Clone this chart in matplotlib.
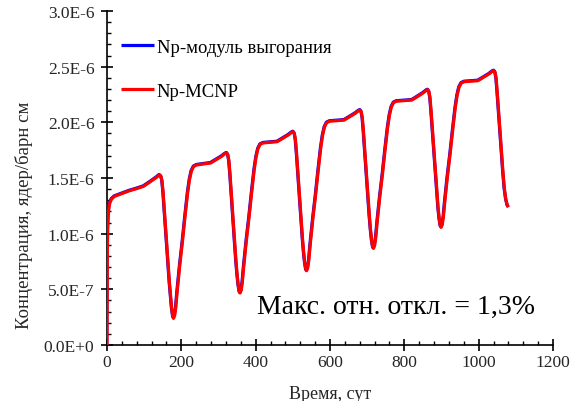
import matplotlib
matplotlib.use("Agg")
import matplotlib.pyplot as plt
import matplotlib.transforms as mtransforms
from matplotlib.ticker import MultipleLocator, FixedLocator

# ---------------- data (concentration in units of 1e-6 nuclei/barn-cm) ----------------
time_days = [
    0, 0.5, 1, 2, 3, 4.5, 6, 8, 12, 20, 30, 40, 60, 80, 98, 108, 118, 128, 134, 138,
    141, 145, 148, 151, 155, 160, 164, 168, 171, 174, 177, 179,
    182, 185, 189, 196, 203, 210, 217, 222, 227, 233, 241, 260, 279, 289, 299, 309, 315, 319,
    322, 325, 328, 331, 338, 343, 347, 350, 353, 356, 358,
    361, 364, 368, 375, 382, 389, 396, 401, 406, 412, 420, 440, 458, 468, 478, 488, 494, 498,
    501, 504, 507, 510, 517, 522, 526, 529, 532, 535, 537,
    540, 543, 547, 554, 561, 568, 575, 580, 585, 591, 599, 620, 638, 648, 658, 668, 674, 678,
    681, 684, 687, 690, 697, 702, 706, 709, 712, 715, 717,
    720, 723, 727, 734, 741, 748, 755, 760, 765, 771, 779, 800, 820, 830, 840, 850, 856, 860,
    863, 866, 869, 872, 879, 884, 888, 891, 894, 897, 899,
    902, 905, 909, 916, 923, 930, 937, 942, 947, 953, 961, 980, 998, 1008, 1018, 1028, 1034, 1038,
    1041, 1044, 1047, 1050, 1055, 1060, 1065, 1069, 1073, 1077, 1080,
]

conc_mcnp = [
    0, 0.55, 0.85, 1.05, 1.14, 1.21, 1.25, 1.28, 1.31, 1.335, 1.348, 1.36, 1.385, 1.405, 1.425,
    1.447, 1.47, 1.493, 1.508, 1.52,
    1.527, 1.515, 1.475, 1.37, 1.18, 0.94, 0.75, 0.56, 0.44, 0.33, 0.26, 0.24,
    0.265, 0.336, 0.488, 0.722, 0.929, 1.156, 1.369, 1.486, 1.562, 1.603, 1.617, 1.626, 1.635,
    1.655, 1.676, 1.696, 1.712, 1.721,
    1.725, 1.71, 1.655, 1.535, 1.187, 0.947, 0.757, 0.637, 0.542, 0.479, 0.467,
    0.491, 0.561, 0.710, 0.939, 1.141, 1.363, 1.572, 1.687, 1.761, 1.802, 1.815, 1.821, 1.826,
    1.846, 1.867, 1.887, 1.903, 1.912,
    1.916, 1.901, 1.846, 1.726, 1.387, 1.147, 0.957, 0.837, 0.742, 0.679, 0.667,
    0.691, 0.761, 0.909, 1.137, 1.339, 1.560, 1.768, 1.882, 1.956, 1.997, 2.01, 2.015, 2.02,
    2.04, 2.061, 2.081, 2.097, 2.106,
    2.11, 2.095, 2.04, 1.92, 1.588, 1.348, 1.158, 1.038, 0.943, 0.880, 0.868,
    0.892, 0.961, 1.106, 1.331, 1.529, 1.747, 1.952, 2.064, 2.137, 2.177, 2.19, 2.195, 2.20,
    2.22, 2.242, 2.263, 2.279, 2.289,
    2.293, 2.278, 2.223, 2.103, 1.777, 1.537, 1.347, 1.227, 1.132, 1.069, 1.057,
    1.081, 1.149, 1.292, 1.515, 1.711, 1.927, 2.130, 2.241, 2.313, 2.352, 2.365, 2.37, 2.374,
    2.394, 2.415, 2.435, 2.451, 2.46,
    2.464, 2.45, 2.395, 2.27, 2.04, 1.80, 1.57, 1.41, 1.31, 1.255, 1.237,
]

# burnup module agrees with MCNP within 1.3 % -> indistinguishable on the chart
conc_module = list(conc_mcnp)

series_labels = ["Np-модуль выгорания", "Np-MCNP"]
xtick_values = [0, 200, 400, 600, 800, 1000, 1200]
ytick_values = [0.0, 0.5, 1.0, 1.5, 2.0, 2.5, 3.0]
ytick_labels = ["0.0E+0", "5.0E-7", "1.0E-6", "1.5E-6", "2.0E-6", "2.5E-6", "3.0E-6"]
xlabel_text = "Время, сут"
ylabel_text = "Концентрация, ядер/барн см"
note_text = "Макс. отн. откл. = 1,3%"

# ---------------- figure ----------------
plt.rcParams['font.family'] = ['Liberation Serif', 'DejaVu Serif']
W, H = 572, 402
fig = plt.figure(figsize=(W / 100, H / 100), dpi=100)
ax = fig.add_axes([107 / W, (H - 346) / H, 446 / W, 334 / H])

shift = mtransforms.ScaledTranslation(-0.2 / 72, 0.35 / 72, fig.dpi_scale_trans)
l_blue, = ax.plot(time_days, conc_module, color="#0000FF", lw=2.3,
                  transform=ax.transData + shift, solid_joinstyle="round",
                  solid_capstyle="butt", zorder=3)
l_red, = ax.plot(time_days, conc_mcnp, color="#FF0000", lw=2.3,
                 solid_joinstyle="round", solid_capstyle="butt", zorder=4)

ax.set_xlim(0, 1200)
ax.set_ylim(0, 3.0)
ax.xaxis.set_major_locator(FixedLocator(xtick_values))
ax.xaxis.set_minor_locator(MultipleLocator(40))
ax.yaxis.set_major_locator(FixedLocator(ytick_values))
ax.yaxis.set_minor_locator(MultipleLocator(0.1))
ax.set_yticklabels(ytick_labels)

for s in ["top", "right"]:
    ax.spines[s].set_visible(False)
for s in ["left", "bottom"]:
    ax.spines[s].set_linewidth(1.2)
    ax.spines[s].set_color("black")

ax.tick_params(which="major", direction="inout", length=8, width=1.2, color="black",
               labelsize=12.5, labelcolor="#262626")
ax.tick_params(axis="x", which="major", pad=2.5)
ax.tick_params(axis="y", which="major", pad=5)
ax.tick_params(which="minor", direction="in", length=3, width=1.0, color="black")

fig.text(330 / W, 1 - 399 / H, xlabel_text, ha="center", va="baseline", fontsize=13,
         color="#262626")
fig.text(24.5 / W, 1 - 215 / H, ylabel_text, ha="center", va="center", rotation=90,
         fontsize=13.5, color="#262626")

ax.text(403, 0.285, note_text, ha="left", va="baseline", fontsize=20, color="black")

ax.legend([l_blue, l_red], series_labels, loc="upper left",
          bbox_to_anchor=(0.0307, 0.917), frameon=False, fontsize=13.4,
          handlelength=1.78, handletextpad=0.16, labelspacing=1.44,
          borderpad=0, borderaxespad=0)

fig.savefig("out.png", dpi=100)
